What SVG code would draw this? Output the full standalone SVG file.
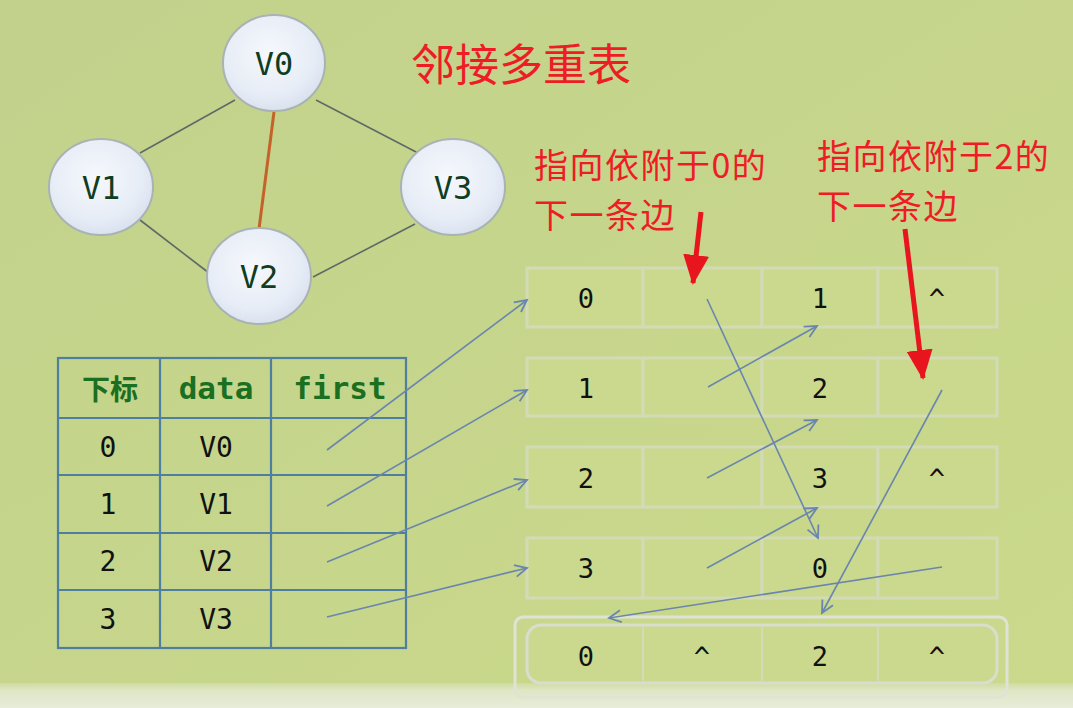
<svg xmlns="http://www.w3.org/2000/svg" width="1073" height="708" viewBox="0 0 1073 708">
<defs>
  <radialGradient id="nodeFill" cx="45%" cy="40%" r="65%">
    <stop offset="0" stop-color="#f6f8fc"/>
    <stop offset="0.7" stop-color="#e6ecf6"/>
    <stop offset="1" stop-color="#d6deec"/>
  </radialGradient>
  <linearGradient id="bottomBand" x1="0" y1="0" x2="0" y2="1">
    <stop offset="0" stop-color="#cfdba0"/>
    <stop offset="0.3" stop-color="#dfe6c4"/>
    <stop offset="1" stop-color="#e8ecda"/>
  </linearGradient>
  <linearGradient id="bg" x1="0" y1="0" x2="1" y2="1">
    <stop offset="0" stop-color="#c2d28c"/>
    <stop offset="1" stop-color="#cad98a"/>
  </linearGradient>
  <marker id="blueArrow" markerUnits="userSpaceOnUse" markerWidth="16" markerHeight="16" viewBox="0 0 16 16" refX="14" refY="8" orient="auto">
    <path d="M2,2 L14,8 L2,14" fill="none" stroke="#6a86ae" stroke-width="1.8"/>
  </marker>
  <marker id="redArrow" markerUnits="userSpaceOnUse" markerWidth="30" markerHeight="26" viewBox="0 0 30 26" refX="28" refY="13" orient="auto">
    <path d="M30,13 L0,0 L0,26 Z" fill="#e8151e"/>
  </marker>
  <style>
    .node ellipse { fill: url(#nodeFill); stroke: #a9b2b4; stroke-width: 2; }
    .nlabel { font-family: "DejaVu Sans Mono", "Liberation Mono", monospace; font-size: 32px; fill: #0e3d22; text-anchor: middle; }
    .gedge { stroke: #5d6a66; stroke-width: 1.6; fill: none; }
    .redge { stroke: #c4622a; stroke-width: 3; fill: none; }
    .title { font-family: "Noto Sans CJK SC", "Microsoft YaHei", sans-serif; font-size: 44px; fill: #ee1c25; }
    .note { font-family: "Noto Sans CJK SC", "Microsoft YaHei", sans-serif; font-size: 34px; letter-spacing: 1.5px; fill: #ee1c25; }
    .tline { stroke: #4f7fa0; stroke-width: 2.2; fill: none; }
    .th { font-family: "DejaVu Sans Mono", "Noto Sans CJK SC", monospace; font-size: 31px; font-weight: bold; fill: #1a6f20; text-anchor: middle; }
    .thc { font-family: "Noto Sans CJK SC", sans-serif; font-size: 28px; font-weight: bold; fill: #1a6f20; text-anchor: middle; }
    .td { font-family: "DejaVu Sans Mono", "Liberation Mono", monospace; font-size: 28px; fill: #111; text-anchor: middle; }
    .cell { fill: #cbd98f; stroke: #d2dbb6; stroke-width: 3; }
    .cv { font-family: "DejaVu Sans Mono", "Liberation Mono", monospace; font-size: 27px; fill: #111; text-anchor: middle; }
    .conn { stroke: #6a86ae; stroke-width: 1.6; fill: none; marker-end: url(#blueArrow); }
    .red { stroke: #e8151e; stroke-width: 5; fill: none; marker-end: url(#redArrow); }
  </style>
</defs>

<rect x="0" y="0" width="1073" height="708" fill="url(#bg)"/>
<rect x="0" y="683" width="1073" height="25" fill="url(#bottomBand)"/>

<!-- graph edges -->
<g id="graph-edges">
  <line class="gedge" x1="235" y1="100" x2="140" y2="153"/>
  <line class="gedge" x1="316" y1="100" x2="418" y2="153"/>
  <line class="gedge" x1="140" y1="220" x2="209" y2="273"/>
  <line class="gedge" x1="415" y1="224" x2="313" y2="277"/>
  <line class="redge" x1="274" y1="112" x2="259" y2="229"/>
</g>

<g id="node-V0" class="node">
  <ellipse cx="274" cy="63" rx="51" ry="48"/>
  <text class="nlabel" x="274" y="75">V0</text>
</g>
<g id="node-V1" class="node">
  <ellipse cx="101" cy="187" rx="52" ry="48"/>
  <text class="nlabel" x="101" y="199">V1</text>
</g>
<g id="node-V3" class="node">
  <ellipse cx="453" cy="187" rx="52" ry="48"/>
  <text class="nlabel" x="453" y="199">V3</text>
</g>
<g id="node-V2" class="node">
  <ellipse cx="259" cy="276" rx="52" ry="48"/>
  <text class="nlabel" x="259" y="288">V2</text>
</g>

<g id="title">
  <text class="title" x="411" y="81">邻接多重表</text>
</g>

<g id="notes">
  <text class="note" x="534" y="178">指向依附于0的</text>
  <text class="note" x="534" y="228">下一条边</text>
  <text class="note" x="817" y="169">指向依附于2的</text>
  <text class="note" x="817" y="219">下一条边</text>
</g>

<!-- vertex table -->
<g id="vertex-table">
  <rect class="tline" x="58" y="358" width="348" height="290"/>
  <line class="tline" x1="160" y1="358" x2="160" y2="648"/>
  <line class="tline" x1="271" y1="358" x2="271" y2="648"/>
  <line class="tline" x1="58" y1="418" x2="406" y2="418"/>
  <line class="tline" x1="58" y1="475" x2="406" y2="475"/>
  <line class="tline" x1="58" y1="533" x2="406" y2="533"/>
  <line class="tline" x1="58" y1="590" x2="406" y2="590"/>
  <text class="thc" x="110" y="400">下标</text>
  <text class="th" x="216" y="399">data</text>
  <text class="th" x="340" y="399">first</text>
  <text class="td" x="108" y="457">0</text>
  <text class="td" x="216" y="457">V0</text>
  <text class="td" x="108" y="514">1</text>
  <text class="td" x="216" y="514">V1</text>
  <text class="td" x="108" y="571">2</text>
  <text class="td" x="216" y="571">V2</text>
  <text class="td" x="108" y="629">3</text>
  <text class="td" x="216" y="629">V3</text>
</g>

<!-- edge nodes -->
<g id="edge-0-1">
  <rect class="cell" x="527" y="268" width="116" height="59"/>
  <rect class="cell" x="643" y="268" width="119" height="59"/>
  <rect class="cell" x="762" y="268" width="116" height="59"/>
  <rect class="cell" x="878" y="268" width="119" height="59"/>
  <text class="cv" x="586" y="308">0</text>
  <text class="cv" x="820" y="308">1</text>
  <text class="cv" x="937" y="308">^</text>
</g>
<g id="edge-1-2">
  <rect class="cell" x="527" y="358" width="116" height="58"/>
  <rect class="cell" x="643" y="358" width="119" height="58"/>
  <rect class="cell" x="762" y="358" width="116" height="58"/>
  <rect class="cell" x="878" y="358" width="119" height="58"/>
  <text class="cv" x="586" y="398">1</text>
  <text class="cv" x="820" y="398">2</text>
</g>
<g id="edge-2-3">
  <rect class="cell" x="527" y="447" width="116" height="60"/>
  <rect class="cell" x="643" y="447" width="119" height="60"/>
  <rect class="cell" x="762" y="447" width="116" height="60"/>
  <rect class="cell" x="878" y="447" width="119" height="60"/>
  <text class="cv" x="586" y="488">2</text>
  <text class="cv" x="820" y="488">3</text>
  <text class="cv" x="937" y="488">^</text>
</g>
<g id="edge-3-0">
  <rect class="cell" x="527" y="538" width="116" height="60"/>
  <rect class="cell" x="643" y="538" width="119" height="60"/>
  <rect class="cell" x="762" y="538" width="116" height="60"/>
  <rect class="cell" x="878" y="538" width="119" height="60"/>
  <text class="cv" x="586" y="578">3</text>
  <text class="cv" x="820" y="578">0</text>
</g>
<g id="edge-0-2">
  <rect x="515" y="617" width="492" height="80" rx="8" fill="none" stroke="#dfe3d6" stroke-width="3"/>
  <rect x="527" y="625" width="470" height="58" rx="14" fill="#cbd98f" stroke="#d8ddce" stroke-width="3"/>
  <line x1="643" y1="627" x2="643" y2="681" stroke="#d2dbb6" stroke-width="2"/>
  <line x1="762" y1="627" x2="762" y2="681" stroke="#d2dbb6" stroke-width="2"/>
  <line x1="878" y1="627" x2="878" y2="681" stroke="#d2dbb6" stroke-width="2"/>
  <text class="cv" x="586" y="666">0</text>
  <text class="cv" x="702" y="666">^</text>
  <text class="cv" x="820" y="666">2</text>
  <text class="cv" x="937" y="666">^</text>
</g>

<!-- connectors -->
<g id="connectors">
  <line class="conn" x1="327" y1="450" x2="527" y2="300"/>
  <line class="conn" x1="327" y1="506" x2="527" y2="390"/>
  <line class="conn" x1="327" y1="562" x2="527" y2="480"/>
  <line class="conn" x1="327" y1="617" x2="527" y2="568"/>
  <line class="conn" x1="707" y1="299" x2="818" y2="538"/>
  <line class="conn" x1="708" y1="387" x2="817" y2="326"/>
  <line class="conn" x1="707" y1="478" x2="817" y2="420"/>
  <line class="conn" x1="707" y1="568" x2="817" y2="508"/>
  <line class="conn" x1="942" y1="390" x2="822" y2="613"/>
  <line class="conn" x1="942" y1="567" x2="609" y2="618"/>
  <line class="red" x1="701" y1="212" x2="693" y2="283"/>
  <line class="red" x1="905" y1="229" x2="923" y2="378"/>
</g>
</svg>
